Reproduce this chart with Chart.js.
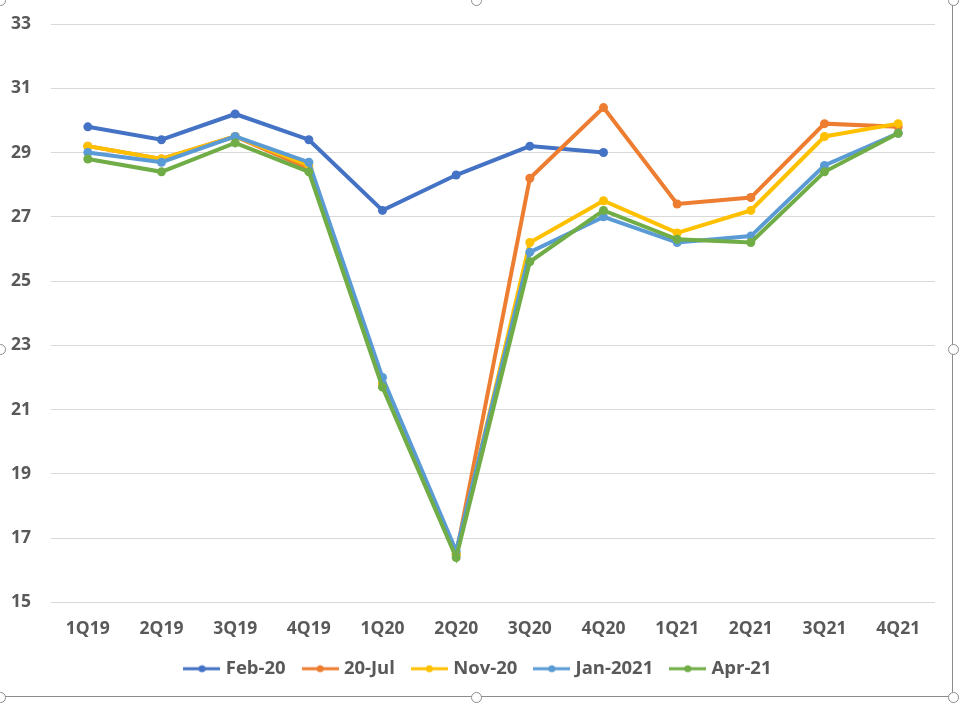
<!DOCTYPE html>
<html>
<head>
<meta charset="utf-8">
<script src="https://cdn.jsdelivr.net/npm/chart.js@4.4.1/dist/chart.umd.min.js"></script>
<style>
    html, body { margin: 0; padding: 0; background: #fff; }
    #wrap { position: relative; width: 959px; height: 703px; overflow: hidden; }
    #frame { position: absolute; left: -1px; top: -1px; width: 953px; height: 697px;
             border-right: 1px solid #8c8c8c; border-bottom: 1px solid #8c8c8c; }
    .handle { position: absolute; width: 9px; height: 9px; border: 1px solid #8c8c8c;
              border-radius: 50%; background: #fff; }
    canvas { position: absolute; left: 0; top: 0; }
</style>
</head>
<body>
<div id="wrap">
    <div id="frame"></div>
    <canvas id="chart" width="959" height="703"></canvas>
</div>
<script>
// quarters on the x axis
const quarters = ["1Q19", "2Q19", "3Q19", "4Q19", "1Q20", "2Q20", "3Q20", "4Q20", "1Q21", "2Q21", "3Q21", "4Q21"];

// one array per forecast vintage
const feb20 = [29.8, 29.4, 30.2, 29.4, 27.2, 28.3, 29.2, 29.0, null, null, null, null];
const jul20 = [29.2, 28.8, 29.5, 28.5, 21.8, 16.5, 28.2, 30.4, 27.4, 27.6, 29.9, 29.8];
const nov20 = [29.2, 28.8, 29.5, 28.6, 21.8, 16.5, 26.2, 27.5, 26.5, 27.2, 29.5, 29.9];
const jan21 = [29.0, 28.7, 29.5, 28.7, 22.0, 16.6, 25.9, 27.0, 26.2, 26.4, 28.6, 29.6];
const apr21 = [28.8, 28.4, 29.3, 28.4, 21.7, 16.4, 25.6, 27.2, 26.3, 26.2, 28.4, 29.6];

const seriesNames = ["Feb-20", "20-Jul", "Nov-20", "Jan-2021", "Apr-21"];
const seriesColors = ["#4472C4", "#ED7D31", "#FFC000", "#5B9BD5", "#70AD47"];

// y axis range
const yMin = 15;
const yMax = 33;
const yStep = 2;

// excel selection handles round the chart frame
[[-5, -5], [471, -5], [948, -5], [-5, 344], [948, 344], [-5, 692], [471, 692], [948, 692]].forEach(p => {
    const h = document.createElement("div");
    h.className = "handle";
    h.style.left = p[0] + "px";
    h.style.top = p[1] + "px";
    document.getElementById("wrap").appendChild(h);
});

// legend marker: short line with a dot, like excel
function legendMarker(color) {
    const c = document.createElement("canvas");
    c.width = 37;
    c.height = 10;
    const ctx = c.getContext("2d");
    ctx.strokeStyle = color;
    ctx.lineWidth = 3;
    ctx.beginPath();
    ctx.moveTo(0, 5);
    ctx.lineTo(37, 5);
    ctx.stroke();
    ctx.fillStyle = color;
    ctx.beginPath();
    ctx.arc(18.5, 5, 3.5, 0, Math.PI * 2);
    ctx.fill();
    return c;
}

const allData = [feb20, jul20, nov20, jan21, apr21];
const markers = seriesColors.map(legendMarker);

const fontFamily = "'Open Sans', 'Liberation Sans', sans-serif";
const axisFont = { family: fontFamily, size: 17.5, weight: "bold" };
const legendFont = { family: fontFamily, size: 18.5, weight: "bold" };

new Chart(document.getElementById("chart"), {
    type: "line",
    data: {
        labels: quarters,
        datasets: allData.map((d, i) => ({
            label: seriesNames[i],
            data: d,
            borderColor: seriesColors[i],
            backgroundColor: seriesColors[i],
            borderWidth: 4,
            pointRadius: 4.5,
            pointBorderWidth: 0,
            pointHoverRadius: 4.5,
            tension: 0,
            spanGaps: false,
            order: allData.length - i // later series drawn on top, as in excel
        }))
    },
    options: {
        responsive: false,
        animation: false,
        layout: { padding: { top: 24, right: 0, left: 0, bottom: 15 } },
        plugins: {
            legend: {
                position: "bottom",
                labels: {
                    usePointStyle: true,
                    pointStyleWidth: 29,
                    color: "#595959",
                    font: legendFont,
                    padding: 20,
                    sort: (a, b) => a.datasetIndex - b.datasetIndex,
                    generateLabels: (chart) => {
                        const items = Chart.defaults.plugins.legend.labels.generateLabels(chart);
                        items.forEach(it => { it.pointStyle = markers[it.datasetIndex]; });
                        return items;
                    }
                }
            },
            tooltip: { enabled: false }
        },
        scales: {
            x: {
                offset: true,
                grid: { display: false },
                border: { display: false },
                ticks: { color: "#595959", font: axisFont, padding: 8, maxRotation: 0 },
                afterFit: (scale) => {
                    scale.height -= 8; // pull legend closer
                    scale.paddingRight = 24; // gap right of plot, legend stays centred on page
                }
            },
            y: {
                min: yMin,
                max: yMax,
                grid: { color: "#d9d9d9", drawTicks: false },
                border: { display: false },
                ticks: { stepSize: yStep, color: "#595959", font: axisFont, padding: 20 },
                afterFit: (scale) => {
                    scale.width = 51;
                    scale.paddingTop = 0;
                    scale.paddingBottom = 0;
                }
            }
        }
    }
});
</script>
</body>
</html>
